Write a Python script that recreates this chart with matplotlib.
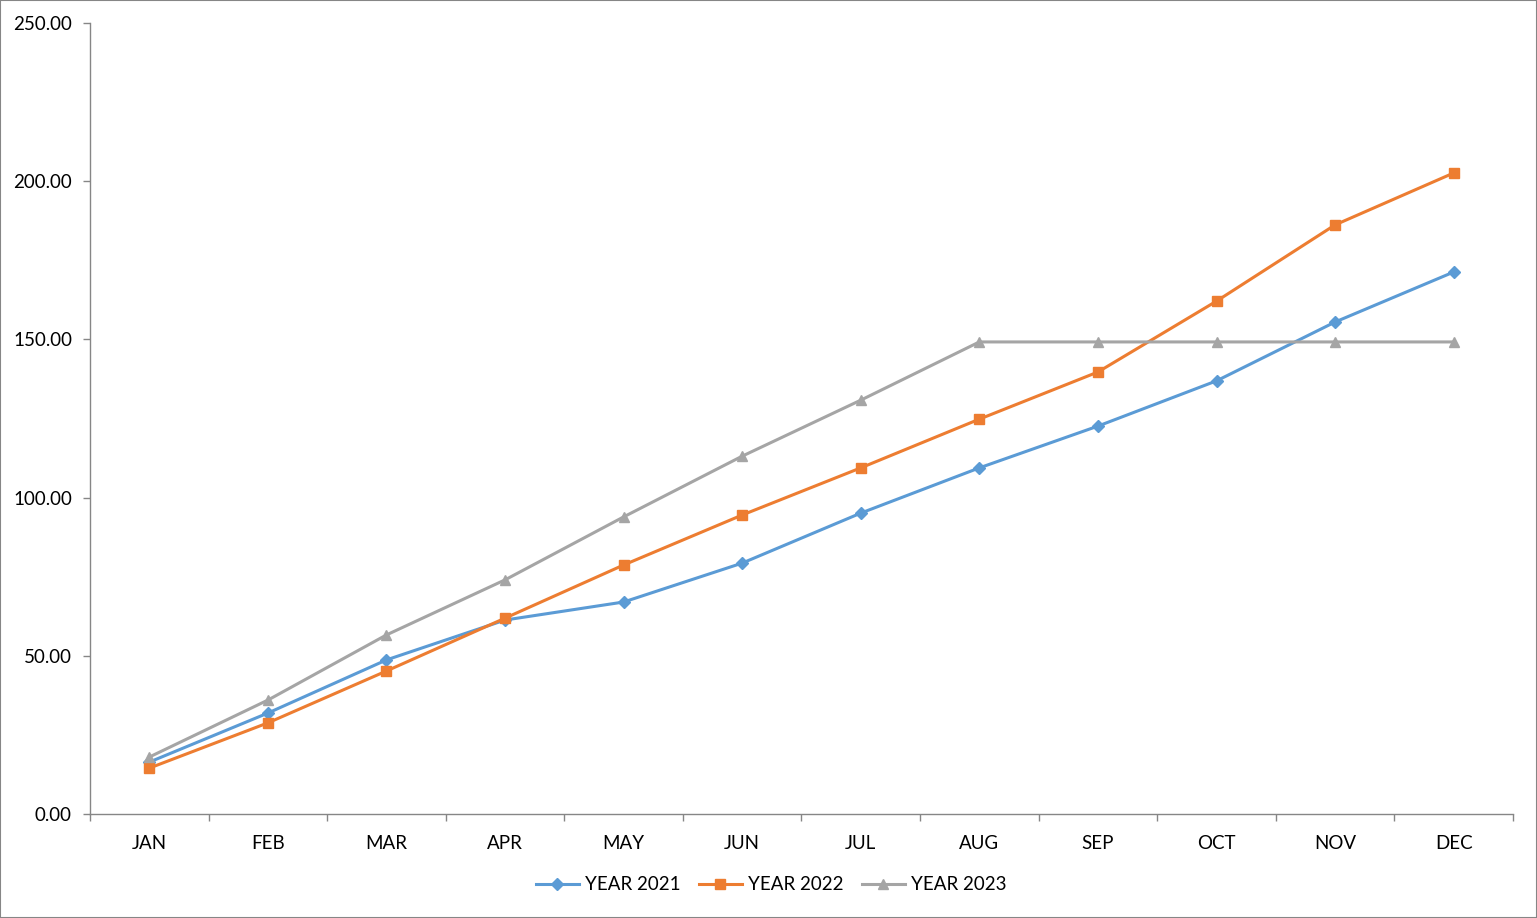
import matplotlib
matplotlib.use("Agg")
from matplotlib import pyplot as plt
from matplotlib.patches import Rectangle

months = ["JAN", "FEB", "MAR", "APR", "MAY", "JUN", "JUL", "AUG", "SEP", "OCT", "NOV", "DEC"]
year_2021 = [16.4, 31.9, 48.7, 61.3, 67.0, 79.3, 95.1, 109.4, 122.6, 136.9, 155.5, 171.3]
year_2022 = [14.5, 28.8, 45.2, 61.9, 78.7, 94.5, 109.4, 124.8, 139.7, 162.1, 186.2, 202.6]
year_2023 = [18.0, 36.0, 56.6, 74.0, 93.9, 113.1, 130.8, 149.2, 149.2, 149.2, 149.2, 149.2]
y_ticks = [0, 50, 100, 150, 200, 250]

plt.rcParams['font.family'] = ['Lato', 'DejaVu Sans']

W, H = 1537, 918
fig = plt.figure(figsize=(W / 100, H / 100), dpi=100)
ax = fig.add_axes([90 / W, 1 - 814 / H, (1513 - 90) / W, (814 - 23) / H])

x = list(range(len(months)))
ax.plot(x, year_2021, color='#5B9BD5', lw=2.2, marker='D', ms=6, label='YEAR 2021')
ax.plot(x, year_2022, color='#ED7D31', lw=2.2, marker='s', ms=7.5, label='YEAR 2022')
ax.plot(x, year_2023, color='#A5A5A5', lw=2.2, marker='^', ms=7.5, label='YEAR 2023')

ax.set_xlim(-0.5, 11.5)
ax.set_ylim(0, 250)
ax.set_yticks(y_ticks)
ax.set_yticklabels([f"{v:.2f}" for v in y_ticks])
ax.set_xticks([i - 0.5 for i in range(13)])
ax.set_xticklabels([])
ax.set_xticks(x, minor=True)
ax.set_xticklabels(months, minor=True)
ax.tick_params(axis='x', which='minor', length=0, pad=15, labelsize=13.5)
ax.tick_params(axis='x', which='major', length=5, color='#868686', width=1)
ax.tick_params(axis='y', length=5, color='#868686', width=1, labelsize=13.5, pad=8)

for s in ['top', 'right']:
    ax.spines[s].set_visible(False)
for s in ['left', 'bottom']:
    ax.spines[s].set_color('#868686')
    ax.spines[s].set_linewidth(1)

fig.legend(loc='center', bbox_to_anchor=(771 / W, 1 - 885 / H), ncol=3, frameon=False,
           fontsize=13.5, handlelength=2.3, columnspacing=1.0, handletextpad=0.3)

fig.patches.append(Rectangle((0, 0), 1, 1, transform=fig.transFigure, fill=False,
                             edgecolor='#868686', lw=1.5))

fig.savefig("out.png", dpi=100)
